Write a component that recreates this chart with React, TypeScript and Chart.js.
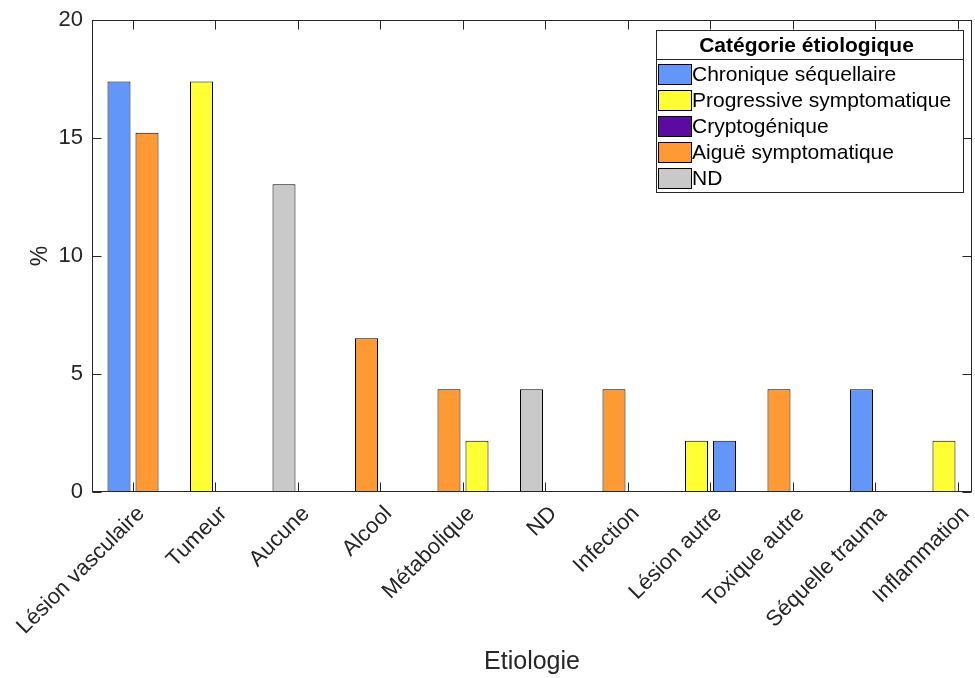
import React, { useEffect, useRef } from 'react';
import { Chart, registerables } from 'chart.js';

Chart.register(...registerables);

const categories = [
  'Lésion vasculaire',
  'Tumeur',
  'Aucune',
  'Alcool',
  'Métabolique',
  'ND',
  'Infection',
  'Lésion autre',
  'Toxique autre',
  'Séquelle trauma',
  'Inflammation',
];

const legendNames = [
  'Chronique séquellaire',
  'Progressive symptomatique',
  'Cryptogénique',
  'Aiguë symptomatique',
  'ND',
];
const legendColors = ['#6396F9', '#FFFF33', '#5C0BA0', '#FF9933', '#C9C9C9'];
const legendTitle = 'Catégorie étiologique';

// first bar of each group
const firstValues = [17.39, 17.39, 13.04, 6.52, 4.35, 4.35, 4.35, 2.17, 4.35, 4.35, 2.17];
const firstGroup = [
  'Chronique séquellaire',
  'Progressive symptomatique',
  'ND',
  'Aiguë symptomatique',
  'Aiguë symptomatique',
  'ND',
  'Aiguë symptomatique',
  'Progressive symptomatique',
  'Aiguë symptomatique',
  'Chronique séquellaire',
  'Progressive symptomatique',
];

// second bar of each group
const secondValues = [15.22, null, null, null, 2.17, null, null, 2.17, null, null, null];
const secondGroup = [
  'Aiguë symptomatique',
  null,
  null,
  null,
  'Progressive symptomatique',
  null,
  null,
  'Chronique séquellaire',
  null,
  null,
  null,
];

const yTicks = [0, 5, 10, 15, 20];
const xTitle = 'Etiologie';
const yTitle = '%';

const AXIS = '#262626';
const FONT = "'Liberation Sans', Arial, sans-serif";

const colorOf = (name: string | null) => {
  const i = legendNames.indexOf(name as string);
  return i >= 0 ? legendColors[i] : 'rgba(0,0,0,0)';
};

const framePlugin = {
  id: 'frame',
  afterDatasetsDraw(chart: any) {
    const { ctx, chartArea, scales } = chart;
    const L = Math.round(chartArea.left) + 0.5;
    const R = Math.round(chartArea.right) - 0.5;
    const T = Math.round(chartArea.top) + 0.5;
    const B = Math.round(chartArea.bottom) - 0.5;
    ctx.save();
    ctx.strokeStyle = AXIS;
    ctx.lineWidth = 1;
    ctx.strokeRect(L, T, R - L, B - T);
    const tl = 9;
    ctx.beginPath();
    yTicks.forEach((v) => {
      const y = Math.round(scales.y.getPixelForValue(v)) + 0.5;
      ctx.moveTo(L, y);
      ctx.lineTo(L + tl, y);
      ctx.moveTo(R, y);
      ctx.lineTo(R - tl, y);
    });
    categories.forEach((_, i) => {
      const x = Math.round(scales.x.getPixelForValue(i)) + 0.5;
      ctx.moveTo(x, B);
      ctx.lineTo(x, B - tl);
      ctx.moveTo(x, T);
      ctx.lineTo(x, T + tl);
    });
    ctx.stroke();
    ctx.restore();
  },
};

const legendPlugin = {
  id: 'matlabLegend',
  afterDraw(chart: any) {
    const { ctx, chartArea } = chart;
    ctx.save();
    ctx.font = `21px ${FONT}`;
    let maxW = 0;
    legendNames.forEach((n) => {
      maxW = Math.max(maxW, ctx.measureText(n).width);
    });
    const boxW = Math.round(36 + maxW + 12);
    const boxH = 162;
    const right = Math.round(chartArea.right) - 9;
    const left = right - boxW;
    const top = Math.round(chartArea.top) + 10;
    ctx.fillStyle = '#ffffff';
    ctx.fillRect(left, top, boxW, boxH);
    ctx.strokeStyle = AXIS;
    ctx.lineWidth = 1;
    ctx.strokeRect(left + 0.5, top + 0.5, boxW, boxH);
    ctx.beginPath();
    ctx.moveTo(left, top + 29.5);
    ctx.lineTo(left + boxW, top + 29.5);
    ctx.stroke();
    // title
    ctx.fillStyle = '#000000';
    ctx.font = `bold 21px ${FONT}`;
    ctx.textAlign = 'center';
    ctx.textBaseline = 'middle';
    ctx.fillText(legendTitle, left + boxW / 2 - 3, top + 16);
    // entries
    ctx.font = `21px ${FONT}`;
    ctx.textAlign = 'left';
    legendNames.forEach((n, i) => {
      const sy = top + 34 + i * 26;
      ctx.fillStyle = legendColors[i];
      ctx.fillRect(left + 2, sy, 33, 20);
      ctx.strokeStyle = '#000000';
      ctx.strokeRect(left + 2.5, sy + 0.5, 33, 20);
      ctx.fillStyle = '#000000';
      ctx.fillText(n, left + 36, sy + 11);
    });
    ctx.restore();
  },
};

export default function App() {
  const canvasRef = useRef<HTMLCanvasElement | null>(null);

  useEffect(() => {
    if (!canvasRef.current) return;
    const chart = new Chart(canvasRef.current, {
      type: 'bar',
      data: {
        datasets: [
          {
            label: 'first',
            data: firstValues.map((v, i) => ({ x: i, y: v })),
            backgroundColor: firstGroup.map(colorOf),
            borderColor: '#000000',
            borderWidth: 1,
            borderSkipped: false,
          },
          {
            label: 'second',
            data: secondValues.map((v, i) => ({ x: i, y: v })),
            backgroundColor: secondGroup.map(colorOf),
            borderColor: '#000000',
            borderWidth: 1,
            borderSkipped: false,
          },
        ],
      },
      options: {
        responsive: false,
        animation: false,
        devicePixelRatio: 1,
        categoryPercentage: 0.6788,
        barPercentage: 0.8214,
        layout: { padding: { top: 20, right: 3, left: 0, bottom: 0 }, autoPadding: false },
        plugins: {
          legend: { display: false },
          tooltip: { enabled: false },
        },
        scales: {
          x: {
            type: 'linear',
            offset: false,
            min: -0.497,
            max: 10.17,
            afterBuildTicks: (scale: any) => {
              scale.ticks = categories.map((_, i) => ({ value: i }));
            },
            afterFit: (scale: any) => {
              scale.height = 186;
              scale.paddingLeft = 0;
              scale.paddingRight = 0;
            },
            grid: { display: false, drawTicks: false, offset: false },
            border: { display: false },
            ticks: {
              autoSkip: false,
              minRotation: 45,
              maxRotation: 45,
              padding: 9,
              labelOffset: 8,
              color: AXIS,
              font: { family: FONT, size: 22 },
              callback: (v: any) => categories[v] ?? '',
            },
            title: {
              display: true,
              text: xTitle,
              color: AXIS,
              font: { family: FONT, size: 25 },
              padding: { top: 0, bottom: 1 },
            },
          },
          y: {
            min: 0,
            max: 20,
            afterFit: (scale: any) => {
              scale.width = 92;
              scale.paddingTop = 0;
              scale.paddingBottom = 0;
            },
            grid: { display: false, drawTicks: false },
            border: { display: false },
            ticks: {
              stepSize: 5,
              padding: 9,
              color: AXIS,
              font: { family: FONT, size: 22 },
            },
            title: {
              display: true,
              text: yTitle,
              color: AXIS,
              font: { family: FONT, size: 23 },
              padding: { top: 27, bottom: 0 },
            },
          },
        },
      },
      plugins: [framePlugin, legendPlugin],
    } as any);
    return () => chart.destroy();
  }, []);

  return (
    <div style={{ position: 'absolute', left: 0, top: 0, width: 975, height: 678, background: '#ffffff' }}>
      <canvas ref={canvasRef} width={975} height={678} />
    </div>
  );
}
